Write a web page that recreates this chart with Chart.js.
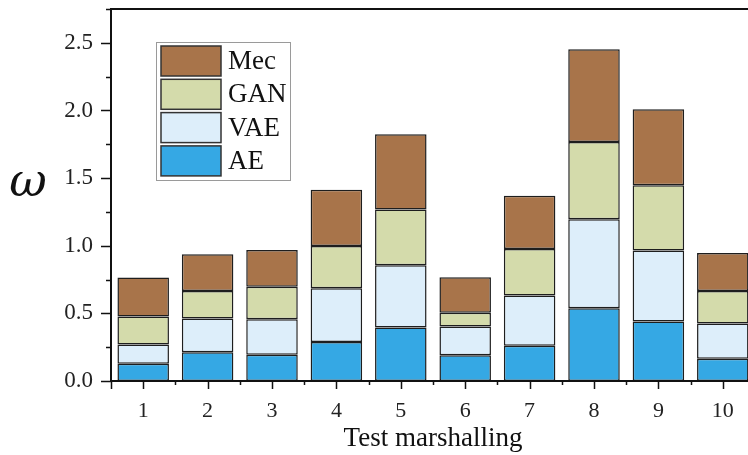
<!DOCTYPE html>
<html>
<head>
<meta charset="utf-8">
<script src="https://cdn.jsdelivr.net/npm/chart.js@4.4.1/dist/chart.umd.min.js"></script>
<style>
	html, body { margin: 0; padding: 0; background: #fff; overflow: hidden; }
	#wrap { width: 772px; height: 455px; }
</style>
</head>
<body>
<div id="wrap"><canvas id="mycanvas"></canvas></div>
<script>
var labels = ["1", "2", "3", "4", "5", "6", "7", "8", "9", "10"];
var ae  = [0.128, 0.212, 0.194, 0.288, 0.396, 0.190, 0.260, 0.538, 0.440, 0.164];
var vae = [0.142, 0.250, 0.263, 0.398, 0.459, 0.213, 0.372, 0.657, 0.524, 0.261];
var gan = [0.207, 0.204, 0.239, 0.312, 0.413, 0.101, 0.344, 0.572, 0.484, 0.241];
var mec = [0.288, 0.271, 0.272, 0.416, 0.556, 0.263, 0.393, 0.686, 0.560, 0.280];

var serif = "'Liberation Serif', 'Times New Roman', serif";

function ds(label, data, color) {
	return {
		label: label,
		data: data,
		backgroundColor: color,
		borderColor: "#1e1e1e",
		borderWidth: 1.5,
		borderSkipped: false,
		categoryPercentage: 0.8,
		barPercentage: 1.0
	};
}

// axes frame, tick marks, omega label and the boxed legend
var decor = {
	id: "decor",
	afterDraw: function(chart) {
		var c = chart.ctx;
		var a = chart.chartArea;
		var x = chart.scales.x;
		var y = chart.scales.y;
		c.save();
		c.strokeStyle = "#111";
		c.lineWidth = 2;
		c.strokeRect(a.left, a.top, a.right - a.left, a.bottom - a.top);

		c.lineWidth = 1.5;
		c.beginPath();
		for (var v = 0; v <= 2.751; v += 0.25) {
			var py = Math.round(y.getPixelForValue(v)) + 0.5;
			var major = Math.abs(v * 2 - Math.round(v * 2)) < 1e-6;
			c.moveTo(a.left, py);
			c.lineTo(a.left - (major ? 10 : 5), py);
		}
		var step = x.getPixelForValue(1) - x.getPixelForValue(0);
		for (var i = 0; i < labels.length; i++) {
			var px = Math.round(x.getPixelForValue(i)) + 0.5;
			c.moveTo(px, a.bottom);
			c.lineTo(px, a.bottom + 8);
			var bx = Math.round(x.getPixelForValue(i) - step / 2) + 0.5;
			c.moveTo(bx, a.bottom);
			c.lineTo(bx, a.bottom + (i == 0 ? 8 : 4));
		}
		c.stroke();

		c.fillStyle = "#111";
		c.font = "italic 46px 'DejaVu Serif', serif";
		c.textAlign = "center";
		c.textBaseline = "alphabetic";
		c.fillText("\u03c9", a.left - 83, 196);

		var lx = a.left + 45, ly = a.top + 33;
		c.strokeStyle = "#9a9a9a";
		c.lineWidth = 1;
		c.strokeRect(lx + 0.5, ly + 0.5, 134, 138);
		var sets = chart.data.datasets.slice().reverse();
		c.font = "27px " + serif;
		c.textAlign = "left";
		c.textBaseline = "middle";
		for (var k = 0; k < sets.length; k++) {
			var sy = ly + 4 + k * 33.3;
			c.fillStyle = sets[k].backgroundColor;
			c.fillRect(lx + 5, sy, 60, 30);
			c.strokeStyle = "#333";
			c.lineWidth = 1.5;
			c.strokeRect(lx + 5, sy, 60, 30);
			c.fillStyle = "#111";
			c.fillText(sets[k].label, lx + 72, sy + 16);
		}
		c.restore();
	}
};

var ctx = document.getElementById("mycanvas");

var chart = new Chart(ctx, {
	type: "bar",
	data: {
		labels: labels,
		datasets: [
			ds("AE", ae, "#35a8e4"),
			ds("VAE", vae, "#ddeefa"),
			ds("GAN", gan, "#d4dbab"),
			ds("Mec", mec, "#a8744a")
		]
	},
	options: {
		responsive: true,
		maintainAspectRatio: false,
		animation: false,
		layout: { padding: { top: 9, right: 17, left: 0, bottom: 0 } },
		plugins: {
			legend: { display: false },
			tooltip: { enabled: false }
		},
		scales: {
			x: {
				stacked: true,
				grid: { display: false },
				border: { display: false },
				ticks: { color: "#222", padding: 9, font: { family: serif, size: 22 } },
				title: {
					display: true,
					text: "Test marshalling",
					color: "#111",
					font: { family: serif, size: 27 },
					padding: { top: 0, bottom: 0 }
				},
				afterFit: function(s) { s.height = 74; }
			},
			y: {
				stacked: true,
				min: 0,
				max: 2.75,
				grid: { display: false },
				border: { display: false },
				ticks: {
					stepSize: 0.25,
					autoSkip: false,
					color: "#222",
					padding: 10,
					font: { family: serif, size: 23 },
					callback: function(v) {
						return Math.abs(v * 2 - Math.round(v * 2)) < 1e-6 ? v.toFixed(1) : "";
					}
				},
				afterFit: function(s) {
					s.width = 111;
					s.paddingTop = 0;
					s.paddingBottom = 0;
				}
			}
		}
	},
	plugins: [decor]
});
</script>
</body>
</html>
